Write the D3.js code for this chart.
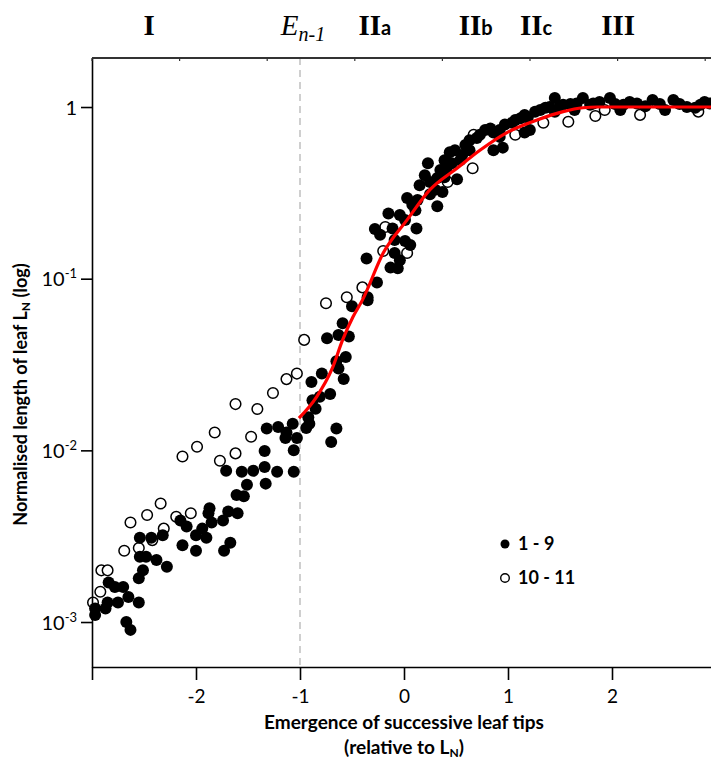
<!DOCTYPE html>
<html lang="en">
<head>
    <meta charset="UTF-8">
    <title>Normalised leaf length</title>
    <script src="https://d3js.org/d3.v7.min.js"></script>
    <style>
        body { margin: 0; background: #fff; }
        text { font-family: Lato, "Liberation Sans", sans-serif; }
    </style>
</head>
<body>
    <div id="chart"></div>
    <script>
        // leaves 1 - 9 (filled)
        const filledX = [-1.87,-1.88,-1.69,-1.60,-2.15,-2.09,-1.94,-1.85,-1.74,-2.00,-1.90,-2.54,-2.43,-2.32,-2.13,-2.00,-1.73,-1.67,
            -2.54,-2.48,-2.38,-2.28,-2.51,-2.55,-2.84,-2.78,-2.70,-2.65,-2.85,-2.75,-2.87,-2.97,-2.97,-2.55,-2.67,-2.63,
            -0.50,-0.35,-0.59,-0.74,-0.63,-0.53,-0.65,-0.56,-0.63,-0.58,-0.79,-0.89,-0.71,-0.81,-0.88,-0.85,-0.92,-0.94,-0.91,
            -1.07,-1.32,-1.21,-1.13,-1.14,-1.03,-1.06,-0.65,-0.70,-1.34,-1.71,-1.56,-1.45,-1.34,-1.22,-1.06,-1.33,-1.51,-1.61,-1.54,
            -0.36,-0.26,-0.06,-0.35,-0.15,-0.28,-0.23,-0.11,0.01,0.12,0.01,-0.09,0.03,0.08,0.13,0.25,0.32,0.23,0.25,0.32,0.39,0.46,
            0.44,0.56,0.51,0.70,0.86,0.92,0.86,0.95,1.04,1.12,1.19,1.31,1.40,1.45,1.53,1.66,1.72,1.82,1.98,2.11,2.24,2.39,2.59,2.72,
            2.85,2.94,1.21,1.16,
            0.15,0.20,0.35,0.39,0.49,0.59,0.63,0.73,0.78,0.83,0.97,1.07,1.16,1.26,1.36,1.50,1.60,1.79,1.88,2.03,2.17,2.32,2.46,2.51,
            2.65,2.80,2.89,2.08,1.64,1.45,0.92,0.63,0.54,0.30,0.11,-0.04,-0.09,-0.04,-0.13,0.06,0.41,0.37];
        const filledY = [0.0046,0.0043,0.0044,0.0043,0.0039,0.0036,0.0035,0.0038,0.0039,0.0032,0.0031,0.0031,0.0031,0.0032,0.0028,0.0026,0.0026,0.0029,
            0.0024,0.0024,0.0023,0.0021,0.0020,0.0018,0.0017,0.0016,0.0016,0.0014,0.0013,0.0013,0.0012,0.0011,0.0012,0.0013,0.0010,0.0009,
            0.069,0.075,0.055,0.045,0.047,0.046,0.033,0.035,0.030,0.026,0.028,0.025,0.0213,0.0205,0.0196,0.0175,0.0156,0.0135,0.0143,
            0.0143,0.0134,0.0137,0.0127,0.0118,0.0118,0.0100,0.0134,0.0112,0.0099,0.0076,0.0075,0.0076,0.0080,0.0075,0.0075,0.0064,0.0063,0.0055,0.0054,
            0.131,0.095,0.115,0.078,0.24,0.195,0.18,0.196,0.22,0.196,0.166,0.141,0.295,0.27,0.287,0.31,0.264,0.47,0.366,0.386,0.39,0.47,
            0.546,0.525,0.38,0.66,0.71,0.67,0.56,0.58,0.81,0.86,0.87,0.96,1.0,1.13,1.03,1.05,1.13,1.05,1.13,1.03,1.05,1.10,1.10,1.0,
            1.03,1.05,0.735,0.71,
            0.35,0.40,0.43,0.49,0.56,0.60,0.64,0.69,0.735,0.75,0.79,0.84,0.90,0.94,0.99,1.01,1.04,1.03,1.07,1.04,1.07,1.01,1.04,0.96,
            1.04,0.99,1.07,0.96,0.96,0.94,0.735,0.56,0.49,0.33,0.25,0.235,0.168,0.128,0.116,0.157,0.44,0.32];

        // leaves 10 - 11 (open)
        const openX = [-2.34,-2.47,-2.63,-2.19,-2.05,-2.31,-2.42,-2.69,-2.55,-2.91,-2.85,-2.92,-2.99,
            -0.75,-0.96,-1.03,-1.13,-1.26,-1.62,-1.41,-1.82,-1.47,-1.99,-2.13,-1.62,-1.77,
            -0.40,-0.55,-0.18,-0.20,0.03,0.66,0.67,0.42,1.07,1.34,1.58,1.84,1.93,2.27,2.83];
        const openY = [0.0049,0.0042,0.0038,0.0041,0.0043,0.0035,0.0030,0.0026,0.0027,0.0020,0.0020,0.0015,0.0013,
            0.072,0.044,0.028,0.026,0.0216,0.0186,0.0174,0.0127,0.0120,0.0105,0.0092,0.0096,0.0087,
            0.089,0.078,0.20,0.145,0.141,0.44,0.69,0.366,0.69,0.81,0.82,0.886,0.96,0.90,0.94];

        // fitted curve (red)
        const fitX = [-1.01,-0.84,-0.69,-0.59,-0.49,-0.40,-0.20,0.03,0.25,0.51,0.73,0.99,1.28,1.53,1.72,1.86,2.2,2.6,3.0];
        const fitY = [0.0154,0.0205,0.030,0.044,0.060,0.075,0.141,0.22,0.33,0.44,0.56,0.71,0.84,0.94,0.99,1.0,1.0,1.0,1.0];

        const xTicks = [-3, -2, -1, 0, 1, 2, 3];
        const xTickLabels = ["", "-2", "-1", "0", "1", "2", ""];
        const yTicks = [0.001, 0.01, 0.1, 1];
        const yTickExp = ["-3", "-2", "-1", ""];
        const phaseLabels = ["I", "II", "II", "II", "III"];
        const phaseSubs = ["", "a", "b", "c", ""];
        const phasePos = [-2.45, -0.28, 0.69, 1.27, 2.06];
        const topTicks = [0, 1, 2, 3, 4, 5, 6, 7];

        const width = 711, height = 762;
        const mLeft = 92, mRight = 716, mTop = 58, mBottom = 667;

        const svg = d3.select("#chart").append("svg")
            .attr("width", width)
            .attr("height", height);

        const x = d3.scaleLinear().domain([-3, 3]).range([mLeft, mRight]);
        const y = d3.scaleLog().domain([5.47e-4, 1.93]).range([mBottom, mTop]);
        const xTop = d3.scaleLinear().domain([0, 7]).range([mLeft, mLeft + 87.6 * 7]);

        // dashed line at E n-1
        svg.append("line")
            .attr("x1", x(-1)).attr("x2", x(-1))
            .attr("y1", mTop).attr("y2", mBottom)
            .attr("stroke", "#c4c4c4")
            .attr("stroke-width", 1.6)
            .attr("stroke-dasharray", "7,5");

        // open markers
        svg.append("g").selectAll("circle")
            .data(openX.map((d, i) => [d, openY[i]]))
            .enter().append("circle")
            .attr("cx", d => x(d[0]))
            .attr("cy", d => y(d[1]))
            .attr("r", 5.3)
            .attr("fill", "#fff")
            .attr("stroke", "#000")
            .attr("stroke-width", 1.5);

        // filled markers
        svg.append("g").selectAll("circle")
            .data(filledX.map((d, i) => [d, filledY[i]]))
            .enter().append("circle")
            .attr("cx", d => x(d[0]))
            .attr("cy", d => y(d[1]))
            .attr("r", 6)
            .attr("fill", "#000");

        // fit line
        const line = d3.line()
            .x(d => x(d[0]))
            .y(d => y(d[1]))
            .curve(d3.curveMonotoneX);
        svg.append("path")
            .datum(fitX.map((d, i) => [d, fitY[i]]))
            .attr("d", line)
            .attr("fill", "none")
            .attr("stroke", "#ff0000")
            .attr("stroke-width", 3.2);

        // bottom axis
        const xAxis = svg.append("g")
            .attr("transform", `translate(0,${mBottom})`)
            .call(d3.axisBottom(x).tickValues(xTicks).tickSize(13).tickSizeOuter(0)
                .tickFormat((d, i) => xTickLabels[i]));
        xAxis.select(".domain").attr("stroke-width", 1.6);
        xAxis.selectAll(".tick line").attr("stroke-width", 1.6);
        xAxis.selectAll("text")
            .attr("font-size", 19)
            .attr("dy", "1.05em")
            .attr("fill", "#000");

        // left axis
        const yAxis = svg.append("g")
            .attr("transform", `translate(${mLeft},0)`)
            .call(d3.axisLeft(y).tickValues(yTicks).tickSize(11).tickSizeOuter(0).tickFormat(""));
        yAxis.select(".domain").attr("stroke-width", 1.6);
        yAxis.selectAll(".tick line").attr("stroke-width", 1.6);
        yAxis.selectAll(".tick").each(function(d, i) {
            const t = d3.select(this).append("text")
                .attr("x", -15)
                .attr("dy", "0.35em")
                .attr("text-anchor", "end")
                .attr("font-size", 20)
                .attr("fill", "#000");
            if (yTickExp[i] === "") {
                t.text("1");
            } else {
                t.append("tspan").text("10");
                t.append("tspan").attr("font-size", 13).attr("dy", "-0.6em").text(yTickExp[i]);
            }
        });

        // top axis
        svg.append("line")
            .attr("x1", mLeft).attr("x2", width)
            .attr("y1", mTop).attr("y2", mTop)
            .attr("stroke", "#333")
            .attr("stroke-width", 2);
        svg.append("g").selectAll("line")
            .data(topTicks)
            .enter().append("line")
            .attr("x1", d => xTop(d)).attr("x2", d => xTop(d))
            .attr("y1", mTop).attr("y2", mTop + 3)
            .attr("stroke", "#333")
            .attr("stroke-width", 1.2);

        // phase labels
        phaseLabels.forEach((lab, i) => {
            const t = svg.append("text")
                .attr("x", x(phasePos[i]))
                .attr("y", 35)
                .attr("text-anchor", "middle")
                .attr("font-size", 29)
                .attr("font-weight", "bold")
                .attr("fill", "#000");
            t.append("tspan").style("font-family", "'Liberation Serif', serif").text(lab);
            if (phaseSubs[i]) {
                t.append("tspan").attr("font-size", 20).style("font-family", "Lato, sans-serif").text(phaseSubs[i]);
            }
        });
        const en = svg.append("text")
            .attr("x", x(-1) + 3)
            .attr("y", 35)
            .attr("text-anchor", "middle")
            .attr("font-style", "italic")
            .attr("fill", "#000")
            .style("font-family", "'Liberation Serif', serif");
        en.append("tspan").attr("font-size", 29).text("E");
        en.append("tspan").attr("font-size", 20).attr("dy", 6).text("n-1");

        // axis titles
        const yt = svg.append("text")
            .attr("transform", `translate(27,${(mTop + mBottom) / 2 + 32}) rotate(-90)`)
            .attr("text-anchor", "middle")
            .attr("font-size", 18)
            .attr("font-weight", "bold")
            .attr("fill", "#000");
        yt.append("tspan").text("Normalised length of leaf L");
        yt.append("tspan").attr("font-size", 12).attr("dy", 3).text("N");
        yt.append("tspan").attr("dy", -3).text(" (log)");

        svg.append("text")
            .attr("x", x(0))
            .attr("y", 729)
            .attr("text-anchor", "middle")
            .attr("font-size", 19)
            .attr("font-weight", "bold")
            .attr("fill", "#000")
            .text("Emergence of successive leaf tips");
        const xt2 = svg.append("text")
            .attr("x", x(0))
            .attr("y", 754)
            .attr("text-anchor", "middle")
            .attr("font-size", 19)
            .attr("font-weight", "bold")
            .attr("fill", "#000");
        xt2.append("tspan").text("(relative to L");
        xt2.append("tspan").attr("font-size", 12).attr("dy", 3).text("N");
        xt2.append("tspan").attr("dy", -3).text(")");

        // legend
        const legend = svg.append("g").attr("transform", "translate(505,544)");
        legend.append("circle").attr("r", 4.5).attr("fill", "#000");
        legend.append("circle").attr("cy", 34).attr("r", 4.3)
            .attr("fill", "#fff").attr("stroke", "#000").attr("stroke-width", 1.4);
        legend.append("text").attr("x", 13).attr("y", 6)
            .attr("font-size", 18).attr("font-weight", "bold").text("1 - 9");
        legend.append("text").attr("x", 13).attr("y", 40)
            .attr("font-size", 18).attr("font-weight", "bold").text("10 - 11");
    </script>
</body>
</html>
